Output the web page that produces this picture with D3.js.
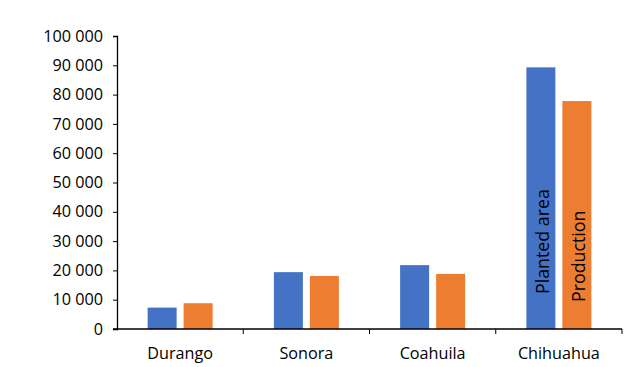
<!DOCTYPE html>
<html><head><meta charset="utf-8">
<script src="https://cdn.jsdelivr.net/npm/d3@7"></script>
<style>body{margin:0;background:#fff}svg{display:block}text{font-family:"Open Sans",Lato,sans-serif;fill:#000}</style>
</head><body>
<script>
const categories = ["Durango","Sonora","Coahuila","Chihuahua"];
const seriesNames = ["Planted area","Production"];
const plantedArea = [7300, 19400, 21800, 89300];
const production = [8800, 18100, 18800, 77800];
const yTicks = [0,10000,20000,30000,40000,50000,60000,70000,80000,90000,100000];
const colors = ["#4472C4","#ED7D31"];

const W=627,H=367;
const m={l:117,r:5,t:36,b:38};
const svg=d3.select("body").append("svg").attr("width",W).attr("height",H);
const x=d3.scaleBand().domain(categories).range([m.l,W-m.r]);
const y=d3.scaleLinear().domain([0,100000]).range([H-m.b,m.t]);
const bw=29, gap=7;
const fmt=d=>d3.format(",")(d).replace(/,/g," ");

const series=[plantedArea,production];
series.forEach((vals,si)=>{
  svg.append("g").selectAll("rect").data(vals).join("rect")
    .attr("x",(d,i)=>x(categories[i])+(x.bandwidth()-(2*bw+gap))/2+si*(bw+gap))
    .attr("y",d=>y(d)).attr("width",bw).attr("height",d=>y(0)-y(d))
    .attr("fill",colors[si]);
});

// series labels inside Chihuahua bars
const last=categories.length-1;
const labelEnds=[294,302];
seriesNames.forEach((nm,si)=>{
  const cx=x(categories[last])+(x.bandwidth()-(2*bw+gap))/2+si*(bw+gap)+bw/2+1;
  svg.append("text").attr("transform",`translate(${cx},${labelEnds[si]}) rotate(-90)`)
    .attr("dominant-baseline","central").attr("font-size",17.8).text(nm);
});

// y axis
const ya=svg.append("g").attr("transform",`translate(${m.l},0)`)
  .call(d3.axisLeft(y).tickValues(yTicks).tickFormat(fmt).tickSize(4).tickPadding(10));
ya.select(".domain").attr("stroke","#000").attr("stroke-width",1.3);
ya.selectAll("line").attr("stroke","#000");
ya.selectAll("text").attr("font-size",16.2).attr("font-family","'Open Sans',sans-serif");

// x axis
const xa=svg.append("g").attr("transform",`translate(0,${y(0)})`);
xa.append("line").attr("x1",m.l-4).attr("x2",W-m.r).attr("stroke","#000").attr("stroke-width",1.3);
categories.forEach(c=>{
  xa.append("line").attr("x1",x(c)+x.bandwidth()).attr("x2",x(c)+x.bandwidth()).attr("y1",0).attr("y2",5).attr("stroke","#000");
  xa.append("text").attr("x",x(c)+x.bandwidth()/2).attr("y",30).attr("text-anchor","middle").attr("font-size",16.2).text(c);
});
</script>
</body></html>
